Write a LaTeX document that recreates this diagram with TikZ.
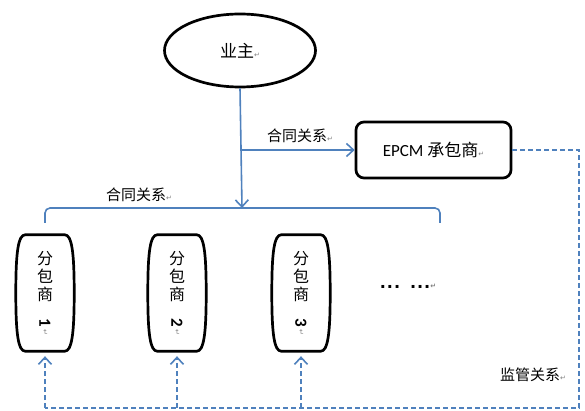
\documentclass[tikz,border=0pt]{standalone}
\usepackage{fontspec}
\setmainfont{Carlito}
\newfontfamily\cjk{Noto Sans CJK SC}
\newfontfamily\symf{DejaVu Sans}
\usetikzlibrary{shapes.geometric,arrows.meta,calc}
\definecolor{wblue}{RGB}{79,129,189}
\newcommand{\pmark}{{\symf\color{gray}\fontsize{7}{7}\selectfont ↵}}
\newcommand{\rpmark}{\rotatebox{-90}{\pmark}}
\newcommand{\rdigit}[1]{\rotatebox{-90}{\fontspec{Carlito}\bfseries\fontsize{17}{17}\selectfont #1}}
\newcommand{\tdots}{.\hspace{1pt}.\hspace{1pt}.}
\newcommand{\barrel}[1]{%
  \draw[shapeline] ($(#1.north east)+(-8,0)$)
    .. controls ($(#1.north east)+(-1,0)$) and ($(#1.east)+(1.5,-42)$) .. ($(#1.east)+(1.5,0)$)
    .. controls ($(#1.east)+(1.5,42)$) and ($(#1.south east)+(-1,0)$) .. ($(#1.south east)+(-8,0)$)
    -- ($(#1.south west)+(8,0)$)
    .. controls ($(#1.south west)+(1,0)$) and ($(#1.west)+(-1.5,42)$) .. ($(#1.west)+(-1.5,0)$)
    .. controls ($(#1.west)+(-1.5,-42)$) and ($(#1.north west)+(1,0)$) .. ($(#1.north west)+(8,0)$)
    -- cycle;}
\begin{document}
\begin{tikzpicture}[x=1pt,y=-1pt,
  shapeline/.style={line width=2.7pt,black},
  blueline/.style={line width=1.6pt,wblue},
  dashline/.style={line width=1.6pt,wblue,dash pattern=on 5pt off 3pt},
  tip/.style={-{Straight Barb[length=7pt,width=13pt]}},
  lbl/.style={font=\cjk\fontsize{15}{15}\selectfont,inner sep=0pt},
  subbox/.style={minimum width=55pt,minimum height=116pt,inner sep=0pt,align=center,
     font=\cjk\fontsize{16}{18}\selectfont}]
\useasboundingbox (0,0) rectangle (585,411);

% owner
\node[ellipse,draw,shapeline,minimum width=151pt,minimum height=73pt,inner sep=0pt,
  font=\cjk\fontsize{17}{17}\selectfont] (yz) at (240,50.5) {业主\pmark};

% EPCM
\node[draw,shapeline,rounded corners=8pt,minimum width=155pt,minimum height=56pt,inner sep=0pt,
  font=\fontsize{17}{17}\selectfont] (epcm) at (433.5,150) {EPCM {\cjk 承包商}\pmark};

% subcontractors
\node[subbox] (s1) at (45,293) {分\\包\\商\\\rdigit{1}\\[-7pt]\rpmark};
\node[subbox] (s2) at (177,293) {分\\包\\商\\\rdigit{2}\\[-7pt]\rpmark};
\node[subbox] (s3) at (301,293) {分\\包\\商\\\rdigit{3}\\[-7pt]\rpmark};
\barrel{s1}
\barrel{s2}
\barrel{s3}

\node[inner sep=0pt,font=\symf\bfseries\fontsize{16}{16}\selectfont] (dots) at (408,286)
  {\tdots\hspace{10pt}\tdots\pmark};

% contract connectors
\coordinate (jA) at (yz.south |- epcm.west);
\coordinate (jB) at (242,208);
\coordinate (bl) at (45,223);
\coordinate (br) at (440,223);
\draw[blueline,tip] (yz.south) -- (jB);
\draw[blueline,tip] (jA) -- (epcm.west);
\draw[blueline,rounded corners=5pt] (bl) -- (bl |- jB) -- (br |- jB) -- (br);

\node[lbl] (c1) at (300,136) {合同关系\pmark};
\node[lbl] (c2) at (139,195) {合同关系\pmark};

% supervision connectors
\coordinate (dR) at (579,408);
\coordinate (dL) at (45,408);
\draw[dashline] (epcm.east) -| (dR) -- (dL);
\draw[dashline,tip] (s1.south |- dL) -- ([yshift=-5pt]s1.south);
\draw[dashline,tip] (s2.south |- dL) -- ([yshift=-5pt]s2.south);
\draw[dashline,tip] (s3.south |- dL) -- ([yshift=-5pt]s3.south);
\node[lbl] (c3) at (533,375) {监管关系\pmark};
\end{tikzpicture}
\end{document}
